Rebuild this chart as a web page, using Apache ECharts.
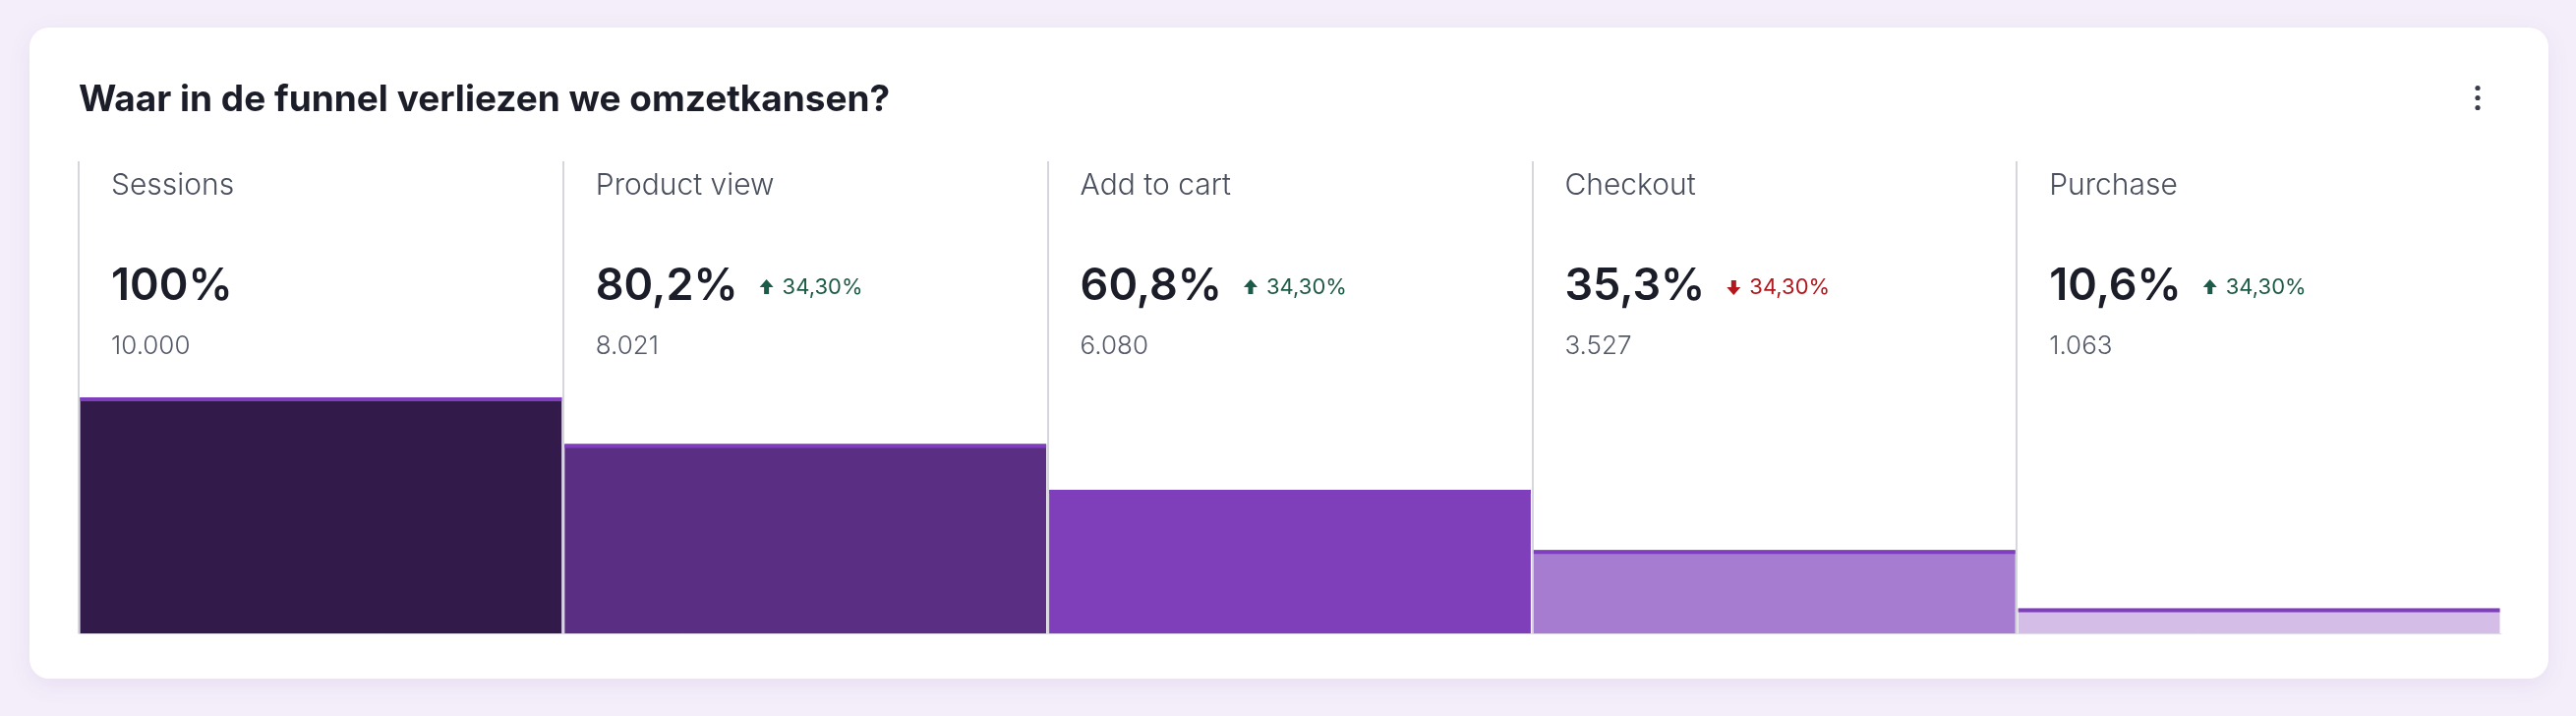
<!DOCTYPE html>
<html>
<head>
<meta charset="utf-8">
<script src="https://cdn.jsdelivr.net/npm/echarts@6/dist/echarts.min.js"></script>
<style>
  html, body { margin: 0; padding: 0; background: #f4eefa; }
  #chart { width: 2620px; height: 728px; }
</style>
</head>
<body>
<div id="chart"></div>
<script>
// ---- data ----
const chartTitle = 'Waar in de funnel verliezen we omzetkansen?';
const stages = ['Sessions', 'Product view', 'Add to cart', 'Checkout', 'Purchase'];
const percentages = [100, 80.2, 60.8, 35.3, 10.6];
const counts = [10000, 8021, 6080, 3527, 1063];
const changes = [null, 34.30, 34.30, -34.30, 34.30];

// ---- styling ----
const FONT = 'Inter, "Noto Sans", sans-serif';
const barColors = ['#321b4b', '#5a2e82', '#7f3fbb', '#a57ccf', '#d4bee7'];
const topLineColor = '#7f3fbd';

function fmtPct(v, digits) {
  const s = digits === 0 ? String(Math.round(v)) : v.toFixed(digits);
  return s.replace('.', ',') + '%';
}
function fmtCount(n) {
  return String(n).replace(/\B(?=(\d{3})+(?!\d))/g, '.');
}
function fmtValue(v) {
  return Number.isInteger(v) ? fmtPct(v, 0) : fmtPct(v, 1);
}

const measureCtx = document.createElement('canvas').getContext('2d');
function textWidth(text, font) {
  measureCtx.font = font;
  return measureCtx.measureText(text).width;
}

const chart = echarts.init(document.getElementById('chart'), null, { renderer: 'canvas' });

function renderItem(params, api) {
  const i = api.value(0);
  const v = api.value(1);
  const topPt = api.coord([i, v]);
  const basePt = api.coord([i, 0]);
  const bw = api.size([1, 0])[0];
  const left = topPt[0] - bw / 2;
  const gridTop = params.coordSys.y;
  const tx = left + 33;
  const children = [];

  children.push({
    type: 'rect',
    shape: { x: left + 1.5, y: topPt[1], width: bw - 3, height: basePt[1] - topPt[1] },
    style: { fill: barColors[i] }
  });
  children.push({
    type: 'rect',
    shape: { x: left + 1.5, y: topPt[1], width: bw - 3, height: 4 },
    style: { fill: topLineColor }
  });

  // stage label
  children.push({
    type: 'text', x: tx, y: gridTop + 25,
    style: { text: stages[i], fontFamily: FONT, fontSize: 30, fontWeight: 300,
             fill: '#4a4f5e', align: 'left', verticalAlign: 'middle' }
  });
  // big value
  const valText = fmtValue(percentages[i]);
  children.push({
    type: 'text', x: tx, y: gridTop + 127,
    style: { text: valText, fontFamily: FONT, fontSize: 45, fontWeight: 600,
             fill: '#1b1d29', align: 'left', verticalAlign: 'middle' }
  });
  // count
  children.push({
    type: 'text', x: tx, y: gridTop + 188.5,
    style: { text: fmtCount(counts[i]), fontFamily: FONT, fontSize: 26, fontWeight: 300,
             fill: '#555a69', align: 'left', verticalAlign: 'middle' }
  });
  // change indicator
  const ch = changes[i];
  if (ch !== null && ch !== undefined) {
    const up = ch >= 0;
    const col = up ? '#1d5b49' : '#b3161b';
    const vw = textWidth(valText, '600 45px ' + FONT);
    const ax = tx + vw + 22;
    const cy = gridTop + 128;
    let pts;
    if (up) {
      pts = [[ax + 7, cy - 8], [ax + 14, cy], [ax + 9.5, cy], [ax + 9.5, cy + 7],
             [ax + 4.5, cy + 7], [ax + 4.5, cy], [ax, cy]];
    } else {
      pts = [[ax + 7, cy + 8], [ax + 14, cy], [ax + 9.5, cy], [ax + 9.5, cy - 7],
             [ax + 4.5, cy - 7], [ax + 4.5, cy], [ax, cy]];
    }
    children.push({ type: 'polygon', shape: { points: pts }, style: { fill: col } });
    children.push({
      type: 'text', x: ax + 23, y: cy,
      style: { text: fmtPct(Math.abs(ch), 2), fontFamily: FONT, fontSize: 22, fontWeight: 400,
               fill: col, align: 'left', verticalAlign: 'middle' }
    });
  }
  return { type: 'group', children };
}

const option = {
  backgroundColor: '#f4eefa',
  animation: false,
  graphic: [
    {
      type: 'rect', z: -10,
      shape: { x: 30, y: 28, width: 2562, height: 662, r: 20 },
      style: { fill: '#ffffff', shadowBlur: 24, shadowColor: 'rgba(90,50,140,0.08)', shadowOffsetY: 6 }
    },
    { type: 'circle', shape: { cx: 2520, cy: 89.5, r: 2.6 }, style: { fill: '#3a3d4a' } },
    { type: 'circle', shape: { cx: 2520, cy: 99.5, r: 2.6 }, style: { fill: '#3a3d4a' } },
    { type: 'circle', shape: { cx: 2520, cy: 109.5, r: 2.6 }, style: { fill: '#3a3d4a' } }
  ],
  title: {
    text: chartTitle,
    left: 75, top: 78,
    textStyle: { fontFamily: FONT, fontSize: 37, fontWeight: 700, color: '#1b1d29' }
  },
  grid: { left: 80, right: 76, top: 164, bottom: 84, containLabel: false },
  xAxis: {
    type: 'category',
    data: stages,
    boundaryGap: true,
    axisLine: { show: true, lineStyle: { color: '#e2dde9', width: 1 } },
    axisTick: { show: false },
    axisLabel: { show: false },
    splitLine: { show: true, showMaxLine: false, lineStyle: { color: '#d6d6de', width: 2 } }
  },
  yAxis: {
    type: 'value', min: 0, max: 200, show: false,
    splitLine: { show: false }
  },
  series: [{
    type: 'custom',
    renderItem: renderItem,
    encode: { x: 0, y: 1 },
    data: stages.map((s, i) => [i, percentages[i]])
  }]
};
chart.setOption(option);
</script>
</body>
</html>
